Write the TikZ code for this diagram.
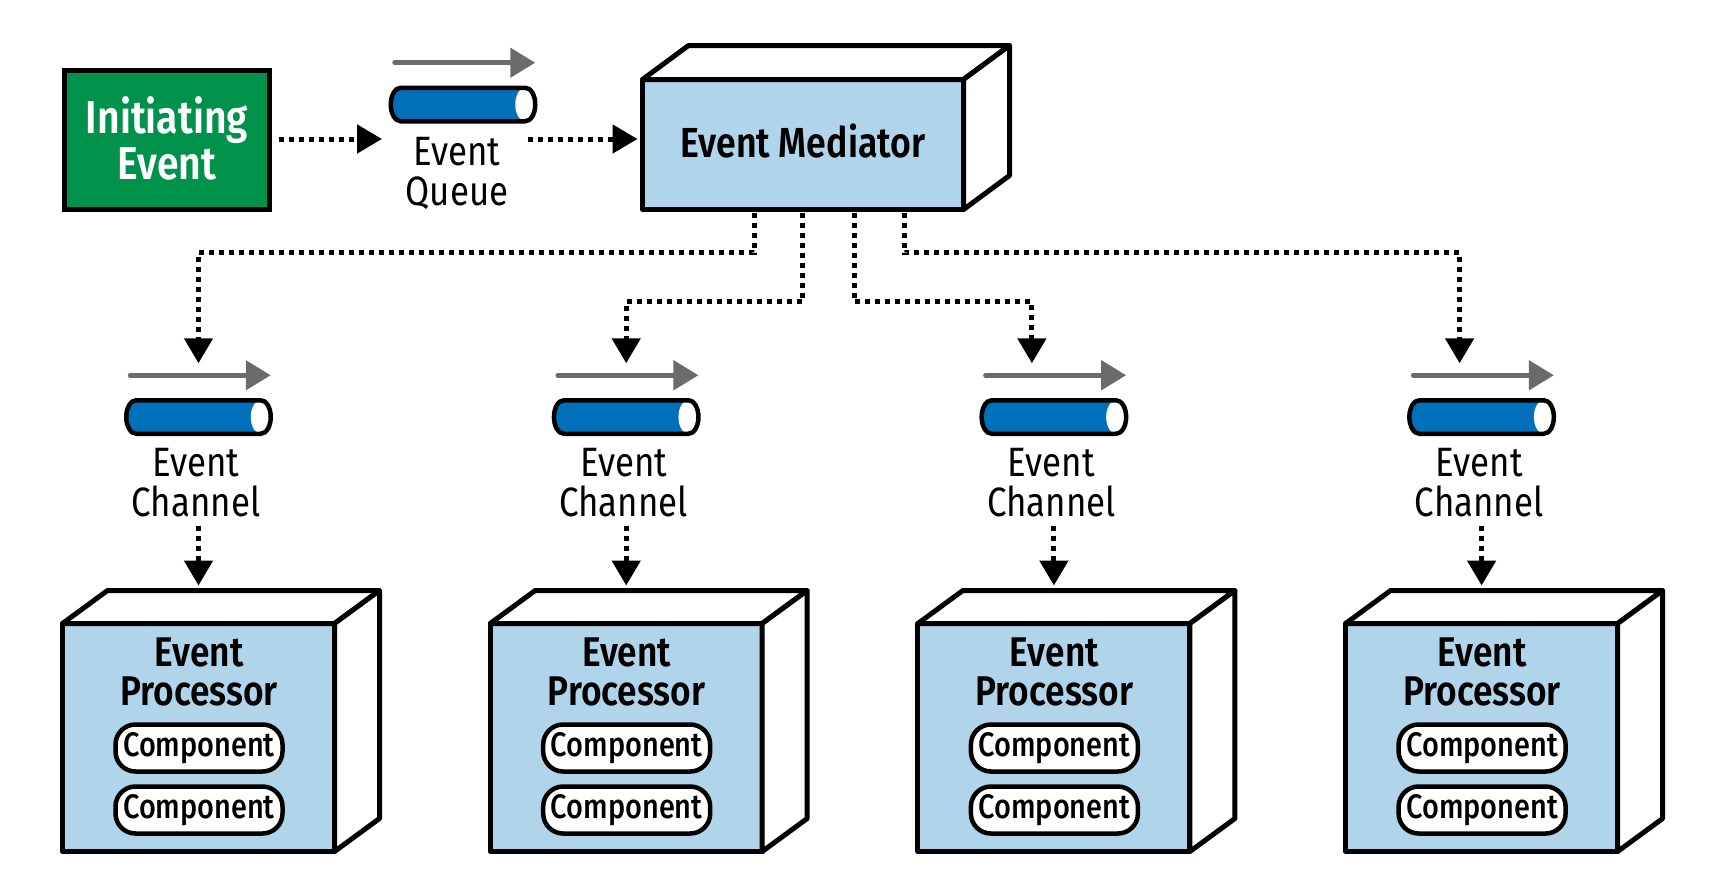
\documentclass[tikz,border=0pt]{standalone}
\usepackage{fontspec}
\setmainfont{Fira Sans}[FakeStretch=0.85,BoldFont={Fira Sans SemiBold}]
\newfontfamily\firamed{Fira Sans Medium}[FakeStretch=0.85]
\usetikzlibrary{arrows.meta,calc}
\definecolor{iegreen}{HTML}{00914A}
\definecolor{lblue}{HTML}{B0D4EA}
\definecolor{cblue}{HTML}{0070BB}
\definecolor{agray}{HTML}{6B6B6B}
\newcommand\cylpath[1]{($(#1.north west)+(10,0)$) -- ($(#1.north east)+(-10,0)$) arc[start angle=-90,end angle=90,x radius=10,y radius=16.75] -- ($(#1.south west)+(10,0)$) arc[start angle=90,end angle=270,x radius=10,y radius=16.75] -- cycle}
\newcommand\drawcyl[1]{%
  \fill[cblue] \cylpath{#1};
  \fill[white] ($(#1.east)+(-10,0)$) ellipse[x radius=10,y radius=16.75];
  \draw[cylout] \cylpath{#1};
  \draw[grayarr] ($(#1.north west)+(4,-25)$) -- ($(#1.north east)+(0,-25)$);
}
\begin{document}
\begin{tikzpicture}[x=1pt,y=-1pt,
  face/.style={draw=black,fill=white,line width=5pt,line join=round},
  front/.style={draw=black,fill=lblue,line width=5pt,line join=round,inner sep=0pt,outer sep=0pt},
  iebox/.style={draw=black,fill=iegreen,line width=5pt,inner sep=0pt,outer sep=0pt},
  dotarr/.style={line width=5pt,dash pattern=on 5pt off 5pt,-{Triangle[length=25pt,width=28pt]}},
  grayarr/.style={draw=agray,line width=5pt,line cap=round,-{Triangle[length=25pt,width=29pt]}},
  cylout/.style={draw=black,line width=4.5pt},
  cylnode/.style={minimum width=144.5pt,minimum height=33.5pt,inner sep=0pt,outer sep=0pt},
  regtxt/.style={font=\fontsize{41pt}{40pt}\selectfont,align=center,inner sep=0pt},
  proctxt/.style={font=\fontsize{41.5pt}{39pt}\selectfont\bfseries,align=center,inner sep=0pt},
  wtxt/.style={font=\fontsize{46pt}{46pt}\selectfont\bfseries,align=center,inner sep=0pt,text=white},
  medtxt/.style={font=\fontsize{42pt}{42pt}\selectfont\bfseries,text height=29pt,text depth=4pt},
  comp/.style={draw=black,fill=white,line width=4.5pt,rounded corners=20pt,minimum width=167pt,minimum height=47pt,inner sep=0pt,font=\fontsize{34pt}{34pt}\firamed,text height=22pt,text depth=5pt}
]
\useasboundingbox (0,0) rectangle (1726,886);

% initiating event
\node[iebox,minimum width=205pt,minimum height=139pt] (ie) at (167,140) {};
\node[wtxt,anchor=base] (iet) at (167,179) {Initiating\\Event};

% event queue
\node[cylnode] (q) at (463,104.5) {};
\drawcyl{q}
\node[regtxt,anchor=base] (qt) at (457,205) {Event\\Queue};

% event mediator
\node[front,medtxt,minimum width=321pt,minimum height=130pt] (med) at (803,144.5) {Event Mediator};
\draw[face] (med.north west) -- ++(46,-34) -- ($(med.north east)+(46,-34)$) -- (med.north east) -- cycle;
\draw[face] (med.north east) -- ++(46,-34) -- ($(med.south east)+(46,-34)$) -- (med.south east) -- cycle;

% top connectors
\coordinate (qin) at (382,139);
\coordinate (qout) at (528,139);
\draw[dotarr,shorten <=9pt] (ie.east |- qin) -- (qin);
\draw[dotarr,shorten >=5pt] (qout) -- (qout -| med.west);

% processors and channels
\foreach \i in {0,1,2,3} {
  \pgfmathsetmacro\cx{198.5+427.7*\i}
  \node[front,minimum width=272pt,minimum height=228pt] (p\i) at (\cx,737.5) {};
  \draw[face] (p\i.north west) -- ++(45,-33) -- ($(p\i.north east)+(45,-33)$) -- (p\i.north east) -- cycle;
  \draw[face] (p\i.north east) -- ++(45,-33) -- ($(p\i.south east)+(45,-33)$) -- (p\i.south east) -- cycle;
  \node[proctxt,anchor=base] (pt\i) at (\cx+0.5,705) {Event\\Processor};
  \node[comp] (ca\i) at (\cx+0.5,748) {Component};
  \node[comp] (cb\i) at (\cx+0.5,810) {Component};
  \node[cylnode] (c\i) at (\cx,417) {};
  \drawcyl{c\i}
  \node[regtxt,anchor=base] (cl\i) at (\cx-2.5,516) {Event\\Channel};
  \draw[dotarr] ($(p\i.north)+(0,-98)$) -- ($(p\i.north)+(0,-38)$);
}

% mediator to channels
\draw[dotarr] ($(med.south)+(-49,3)$) -- ++(0,40) -| ($(c0.north)+(0,-37)$);
\draw[dotarr] ($(med.south)+(-0.3,3)$) -- ++(0,89.2) -| ($(c1.north)+(0,-37)$);
\draw[dotarr] ($(med.south)+(51,3)$) -- ++(0,89.2) -| ($(c2.north)+(-22,-37)$);
\draw[dotarr] ($(med.south)+(101,3)$) -- ++(0,40) -| ($(c3.north)+(-22,-37)$);
\end{tikzpicture}
\end{document}
